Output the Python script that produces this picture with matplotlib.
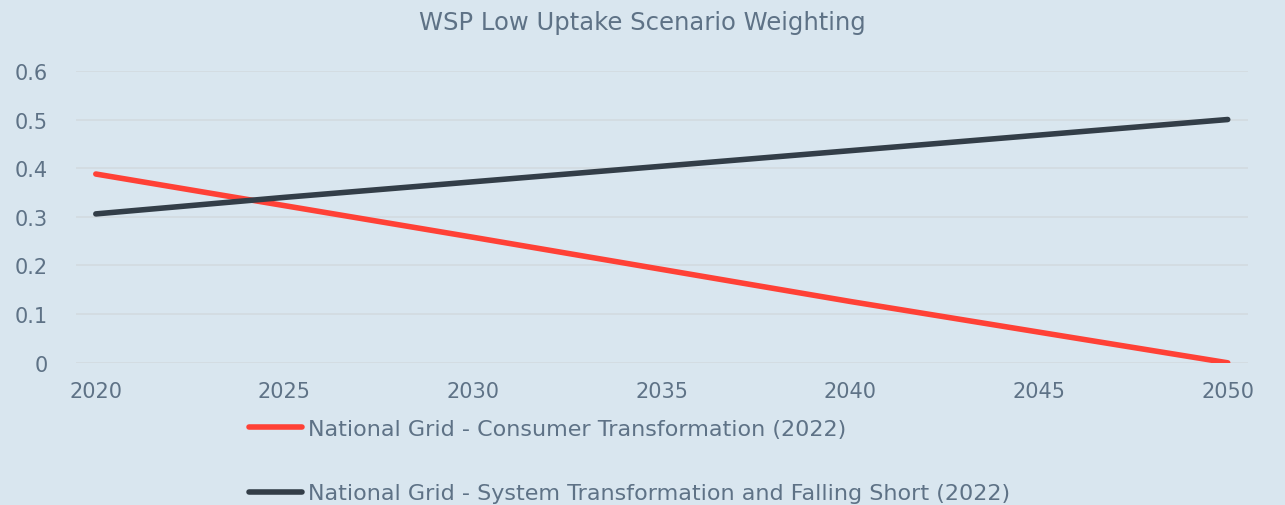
import matplotlib
matplotlib.use("Agg")
from matplotlib import pyplot as plt

years = [2020, 2025, 2030, 2035, 2040, 2045, 2050]
consumer = [0.388, 0.323, 0.258, 0.192, 0.126, 0.063, 0.0]
system = [0.306, 0.340, 0.372, 0.404, 0.436, 0.468, 0.500]

labels = ["National Grid - Consumer Transformation (2022)",
          "National Grid - System Transformation and Falling Short (2022)"]

bg = "#d9e6ef"
text_col = "#5e7286"

plt.rcParams['font.family'] = ['DejaVu Sans']

fig = plt.figure(figsize=(12.85, 5.06), dpi=100, facecolor=bg)
ax = fig.add_axes([0.059, 0.281, 0.912, 0.577])
ax.set_facecolor(bg)

ax.plot(years, consumer, color="#ff4136", lw=4, solid_capstyle="round", label=labels[0])
ax.plot(years, system, color="#333e48", lw=4, solid_capstyle="round", label=labels[1])

ax.set_xlim(2019.47, 2050.53)
ax.set_ylim(0, 0.6)
ax.set_xticks(range(2020, 2051, 5))
ax.set_yticks([0, 0.1, 0.2, 0.3, 0.4, 0.5, 0.6])
ax.set_yticklabels(["0", "0.1", "0.2", "0.3", "0.4", "0.5", "0.6"])
ax.tick_params(colors=text_col, labelsize=15, length=0)
ax.tick_params(axis="y", pad=20)
ax.tick_params(axis="x", pad=13)
ax.grid(axis="y", color="#d3dbe1", lw=1.3)
ax.set_axisbelow(True)
for s in ax.spines.values():
    s.set_visible(False)

fig.text(0.5, 0.955, "WSP Low Uptake Scenario Weighting", ha="center", va="center",
         fontsize=17.5, color=text_col)

leg = fig.legend(loc="upper left", bbox_to_anchor=(0.185, 0.192), frameon=False,
                 fontsize=16, labelcolor=text_col, handlelength=2.4, handletextpad=0.25,
                 labelspacing=2.0, borderpad=0)

fig.savefig("out.png", dpi=100, facecolor=bg)
